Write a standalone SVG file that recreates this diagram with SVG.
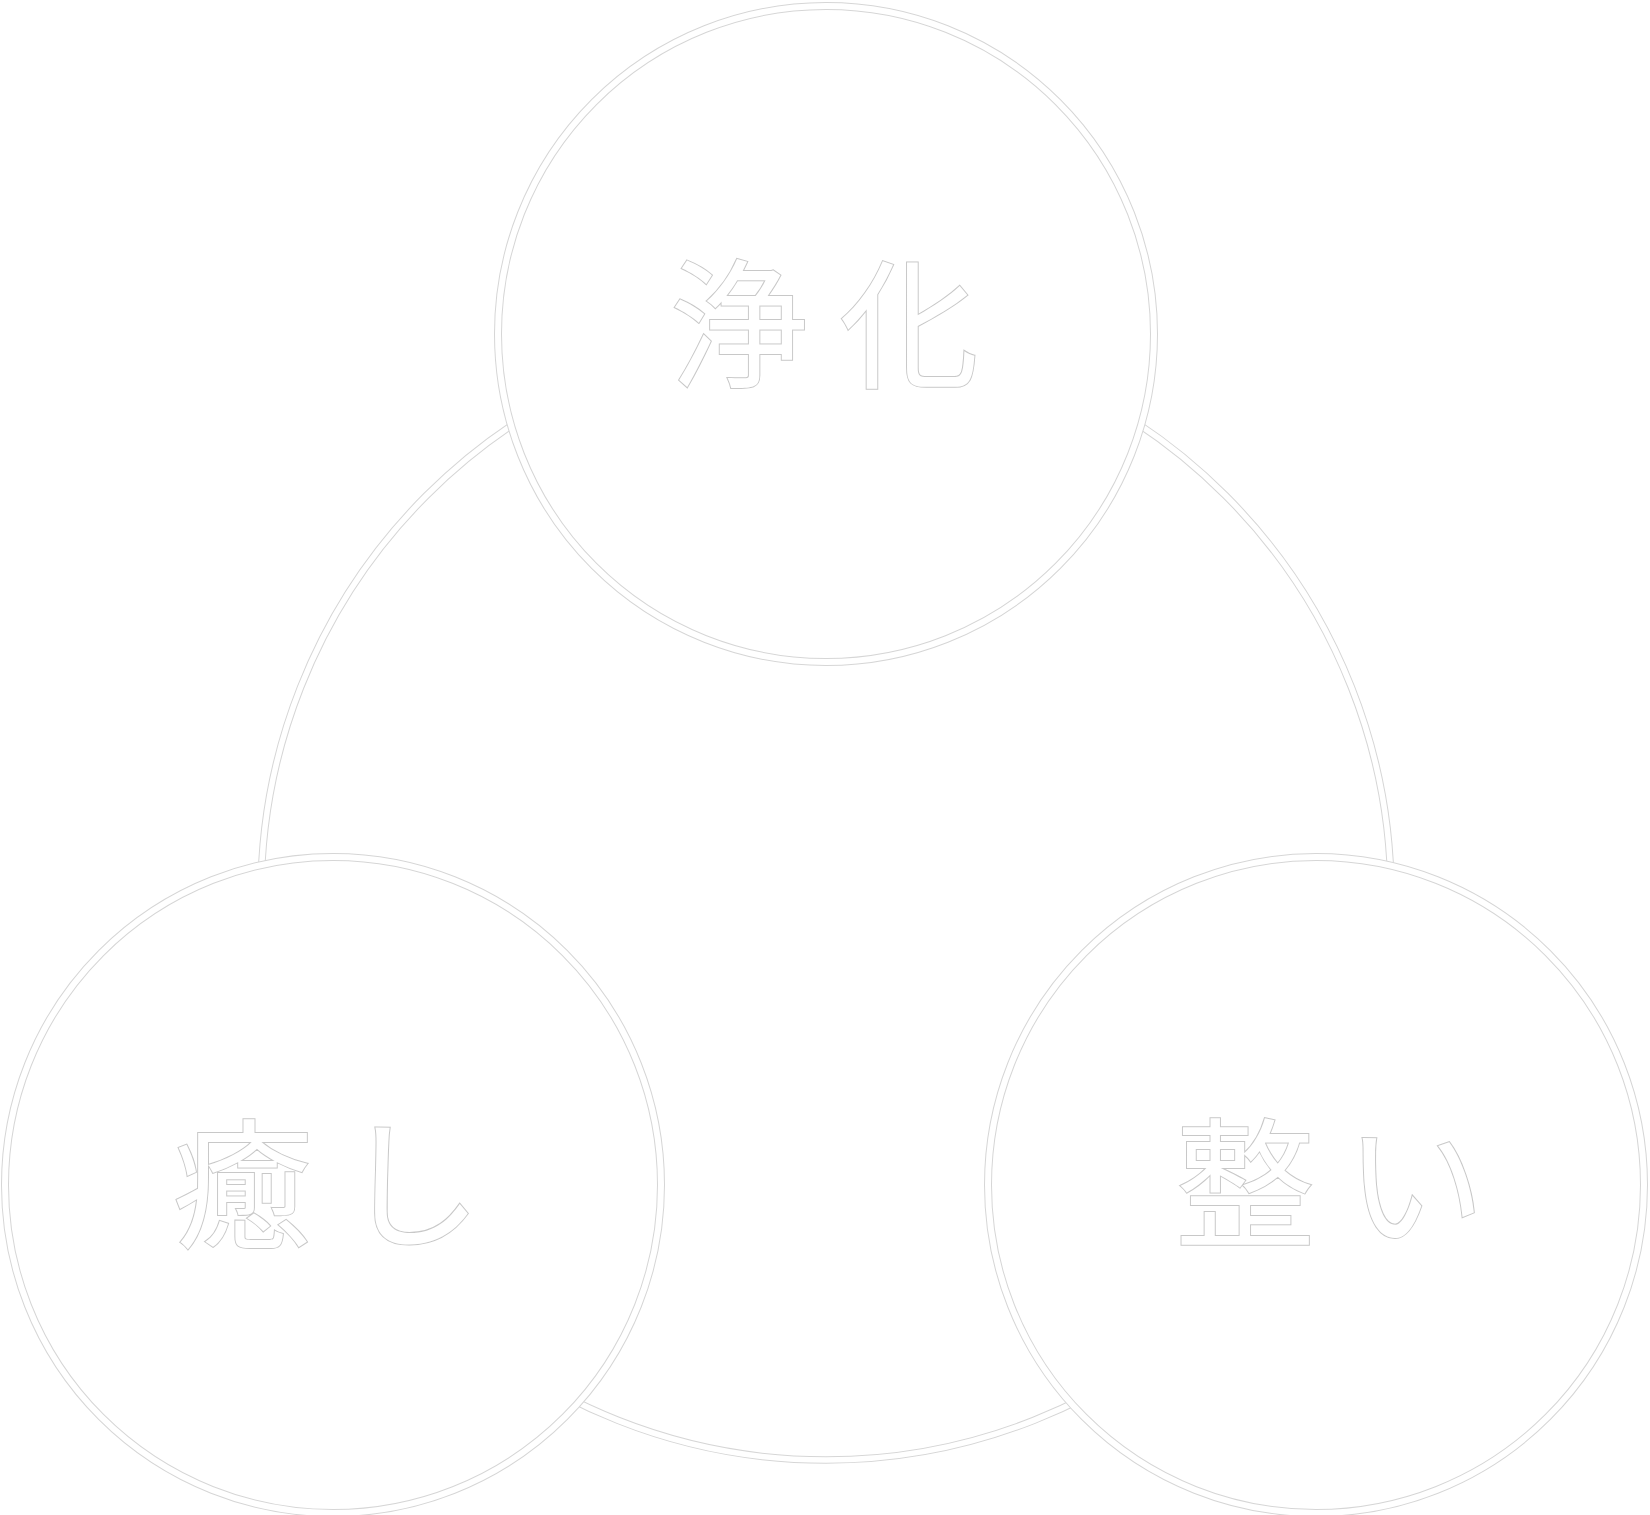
<svg xmlns="http://www.w3.org/2000/svg" width="1650" height="1515" viewBox="0 0 1650 1515">
  <style>
    .ring-edge{fill:none;stroke:#d6d6d6;stroke-width:7.5}
    .ring-core{fill:none;stroke:#ffffff;stroke-width:5.5}
    .node-edge{fill:#ffffff;stroke:#d6d6d6;stroke-width:8}
    .node-core{fill:none;stroke:#ffffff;stroke-width:6}
    .label{font-family:"Noto Sans CJK JP","Noto Sans CJK SC",sans-serif;font-size:140px;letter-spacing:30px;fill:#ffffff;stroke:#c8c8c8;stroke-width:2;paint-order:stroke}
  </style>
  <rect width="1650" height="1515" fill="#ffffff"/>
  <g id="connectors">
    <circle class="ring-edge" cx="826" cy="895" r="565"/>
    <circle class="ring-core" cx="826" cy="895" r="565"/>
  </g>
  <g id="node-jouka">
    <circle class="node-edge" cx="826" cy="334" r="328"/>
    <circle class="node-core" cx="826" cy="334" r="328"/>
    <text class="label" x="669" y="377">浄化</text>
  </g>
  <g id="node-iyashi">
    <circle class="node-edge" cx="333" cy="1185" r="328"/>
    <circle class="node-core" cx="333" cy="1185" r="328"/>
    <text class="label" x="172" y="1237">癒し</text>
  </g>
  <g id="node-totonoi">
    <circle class="node-edge" cx="1316" cy="1185" r="328"/>
    <circle class="node-core" cx="1316" cy="1185" r="328"/>
    <text class="label" x="1175" y="1236">整い</text>
  </g>
</svg>
